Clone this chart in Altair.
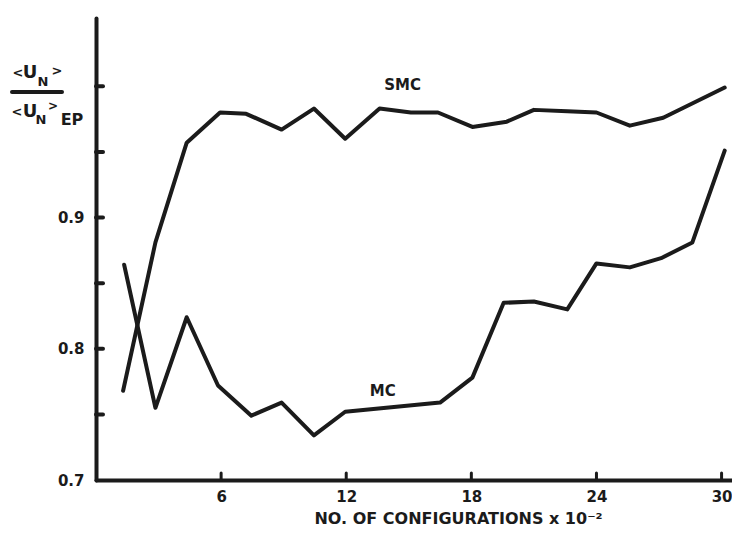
import altair as alt
import pandas as pd

# ---- data ----
smc_x = [1.3, 2.85, 4.35, 5.95, 7.2, 8.9, 10.45, 11.95, 13.6, 15.1, 16.4, 18.05,
         19.7, 21.0, 22.6, 24.0, 25.6, 27.2, 30.15]
smc_y = [0.768, 0.881, 0.957, 0.980, 0.979, 0.967, 0.983, 0.960, 0.983, 0.980,
         0.980, 0.969, 0.973, 0.982, 0.981, 0.980, 0.970, 0.976, 0.999]
mc_x = [1.35, 2.85, 4.35, 5.85, 7.45, 8.9, 10.45, 11.95, 16.5, 18.05, 19.55,
        21.0, 22.6, 24.0, 25.6, 27.1, 28.6, 30.15]
mc_y = [0.864, 0.755, 0.824, 0.772, 0.749, 0.759, 0.734, 0.752, 0.759, 0.778,
        0.835, 0.836, 0.830, 0.865, 0.862, 0.869, 0.881, 0.951]

x_tick_values = [6, 12, 18, 24, 30]
y_tick_values = [0.75, 0.8, 0.85, 0.9, 0.95, 1.0]
y_label_values = [0.7, 0.8, 0.9]
series_labels = ["SMC", "MC"]
series_label_x = [14.7, 13.75]
series_label_y = [1.001, 0.768]

INK = "#1b1b1b"
FONT = "DejaVu Sans"

rows = []
for i, (x, y) in enumerate(zip(smc_x, smc_y)):
    rows.append({"series": "SMC", "idx": i, "x": x, "y": y})
for i, (x, y) in enumerate(zip(mc_x, mc_y)):
    rows.append({"series": "MC", "idx": i, "x": x, "y": y})
df = pd.DataFrame(rows)

xscale = alt.Scale(domain=[0, 30.5], nice=False, zero=False)
yscale = alt.Scale(domain=[0.7, 1.052], nice=False, zero=False)

xaxis = alt.Axis(values=x_tick_values, ticks=False, tickSize=0, grid=False,
                 labelPadding=9, labelFontSize=15, labelFont=FONT, labelFontWeight="bold",
                 labelColor=INK, domainColor=INK, domainWidth=4, domainCap="round",
                 title="NO. OF   CONFIGURATIONS   x 10⁻²", titleFont=FONT,
                 titleFontSize=16, titleFontWeight="bold", titleColor=INK,
                 titleX=362, titleY=38, titleBaseline="middle", titleAlign="center")
yaxis = alt.Axis(values=y_label_values, format=".1f", ticks=False, tickSize=0, grid=False,
                 labelPadding=12, labelFontSize=15, labelFont=FONT, labelFontWeight="bold",
                 labelColor=INK, domainColor=INK, domainWidth=4, domainCap="round",
                 title=None)

lines = alt.Chart(df).mark_line(color=INK, strokeWidth=4, strokeJoin="round",
                                strokeCap="round").encode(
    x=alt.X("x:Q", scale=xscale, axis=xaxis),
    y=alt.Y("y:Q", scale=yscale, axis=yaxis),
    detail="series:N",
    order="idx:Q",
)

yt = alt.Chart(pd.DataFrame({"y": y_tick_values})).mark_rule(
    color=INK, strokeWidth=4, strokeCap="round").encode(
    y=alt.Y("y:Q", scale=yscale), x=alt.value(0), x2=alt.value(7))

xt = alt.Chart(pd.DataFrame({"x": x_tick_values})).mark_rule(
    color=INK, strokeWidth=3, strokeCap="round").encode(
    x=alt.X("x:Q", scale=xscale), y=alt.value(462), y2=alt.value(455))

labels = alt.Chart(pd.DataFrame({"t": series_labels, "x": series_label_x,
                                 "y": series_label_y})).mark_text(
    font=FONT, fontWeight="bold", fontSize=15, color=INK).encode(
    x=alt.X("x:Q", scale=xscale), y=alt.Y("y:Q", scale=yscale), text="t:N")

# y-axis fraction title  <U_N> / <U_N>EP  (pixel positions relative to plot origin)
frac = pd.DataFrame({
    "t":  ["<", "U", "N", ">", "<", "U", "N", ">", "EP"],
    "px": [-78, -66, -53, -39, -79, -66, -55, -43, -24],
    "py": [55, 55, 64, 53, 94, 94, 102, 88, 102],
    "fs": [13, 18, 13, 13, 13, 18, 13, 12, 16],
})
frac_text = alt.Chart(frac).mark_text(font=FONT, fontWeight="bold", color=INK).encode(
    x=alt.X("px:Q", scale=None), y=alt.Y("py:Q", scale=None),
    size=alt.Size("fs:Q", scale=None), text="t:N")
frac_line = alt.Chart(pd.DataFrame({"a": [0]})).mark_rule(
    color=INK, strokeWidth=4, strokeCap="round").encode(
    x=alt.value(-84), x2=alt.value(-34), y=alt.value(74))

chart = alt.layer(lines, yt, xt, labels, frac_text, frac_line).properties(
    width=636, height=462,
    padding={"left": 88, "top": 10, "right": 0, "bottom": 46},
    autosize=alt.AutoSizeParams(type="none"),
    background="white",
).configure_view(stroke=None)

chart.save("out.html", embed_options={"renderer": "svg", "actions": False})
